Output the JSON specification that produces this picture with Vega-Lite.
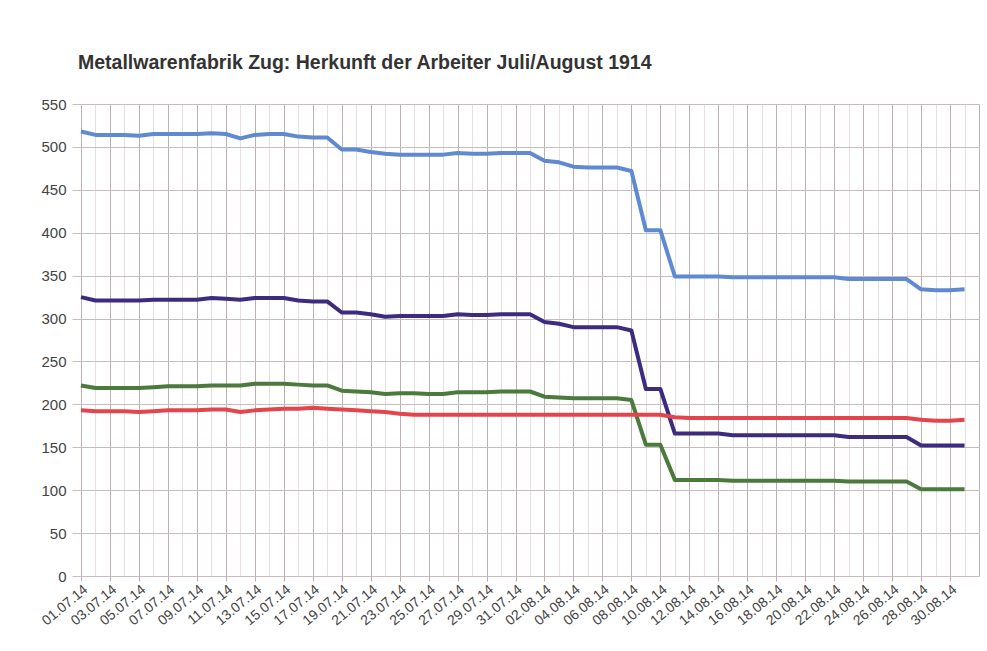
{
  "$schema": "https://vega.github.io/schema/vega-lite/v6.json",
  "autosize": "none",
  "width": 898,
  "height": 472,
  "padding": {"left": 81, "top": 104, "right": 8, "bottom": 75},
  "background": "white",
  "title": {
    "text": "Metallwarenfabrik Zug: Herkunft der Arbeiter Juli/August 1914",
    "anchor": "start",
    "frame": "group",
    "dx": -3,
    "offset": 9,
    "baseline": "alphabetic",
    "font": "Liberation Sans",
    "fontSize": 19.5,
    "fontWeight": "bold",
    "color": "#333333"
  },
  "config": {
    "view": {"stroke": null},
    "axis": {"labelFont": "Liberation Sans", "labelColor": "#444444"}
  },
  "data": {
    "values": [
      {"d":"01.07.14","Total":518,"Gruppe A":325,"Gruppe B":222,"Gruppe C":193},
      {"d":"02.07.14","Total":514,"Gruppe A":321,"Gruppe B":219,"Gruppe C":192},
      {"d":"03.07.14","Total":514,"Gruppe A":321,"Gruppe B":219,"Gruppe C":192},
      {"d":"04.07.14","Total":514,"Gruppe A":321,"Gruppe B":219,"Gruppe C":192},
      {"d":"05.07.14","Total":513,"Gruppe A":321,"Gruppe B":219,"Gruppe C":191},
      {"d":"06.07.14","Total":515,"Gruppe A":322,"Gruppe B":220,"Gruppe C":192},
      {"d":"07.07.14","Total":515,"Gruppe A":322,"Gruppe B":221,"Gruppe C":193},
      {"d":"08.07.14","Total":515,"Gruppe A":322,"Gruppe B":221,"Gruppe C":193},
      {"d":"09.07.14","Total":515,"Gruppe A":322,"Gruppe B":221,"Gruppe C":193},
      {"d":"10.07.14","Total":516,"Gruppe A":324,"Gruppe B":222,"Gruppe C":194},
      {"d":"11.07.14","Total":515,"Gruppe A":323,"Gruppe B":222,"Gruppe C":194},
      {"d":"12.07.14","Total":510,"Gruppe A":322,"Gruppe B":222,"Gruppe C":191},
      {"d":"13.07.14","Total":514,"Gruppe A":324,"Gruppe B":224,"Gruppe C":193},
      {"d":"14.07.14","Total":515,"Gruppe A":324,"Gruppe B":224,"Gruppe C":194},
      {"d":"15.07.14","Total":515,"Gruppe A":324,"Gruppe B":224,"Gruppe C":195},
      {"d":"16.07.14","Total":512,"Gruppe A":321,"Gruppe B":223,"Gruppe C":195},
      {"d":"17.07.14","Total":511,"Gruppe A":320,"Gruppe B":222,"Gruppe C":196},
      {"d":"18.07.14","Total":511,"Gruppe A":320,"Gruppe B":222,"Gruppe C":195},
      {"d":"19.07.14","Total":497,"Gruppe A":307,"Gruppe B":216,"Gruppe C":194},
      {"d":"20.07.14","Total":497,"Gruppe A":307,"Gruppe B":215,"Gruppe C":193},
      {"d":"21.07.14","Total":494,"Gruppe A":305,"Gruppe B":214,"Gruppe C":192},
      {"d":"22.07.14","Total":492,"Gruppe A":302,"Gruppe B":212,"Gruppe C":191},
      {"d":"23.07.14","Total":491,"Gruppe A":303,"Gruppe B":213,"Gruppe C":189},
      {"d":"24.07.14","Total":491,"Gruppe A":303,"Gruppe B":213,"Gruppe C":188},
      {"d":"25.07.14","Total":491,"Gruppe A":303,"Gruppe B":212,"Gruppe C":188},
      {"d":"26.07.14","Total":491,"Gruppe A":303,"Gruppe B":212,"Gruppe C":188},
      {"d":"27.07.14","Total":493,"Gruppe A":305,"Gruppe B":214,"Gruppe C":188},
      {"d":"28.07.14","Total":492,"Gruppe A":304,"Gruppe B":214,"Gruppe C":188},
      {"d":"29.07.14","Total":492,"Gruppe A":304,"Gruppe B":214,"Gruppe C":188},
      {"d":"30.07.14","Total":493,"Gruppe A":305,"Gruppe B":215,"Gruppe C":188},
      {"d":"31.07.14","Total":493,"Gruppe A":305,"Gruppe B":215,"Gruppe C":188},
      {"d":"01.08.14","Total":493,"Gruppe A":305,"Gruppe B":215,"Gruppe C":188},
      {"d":"02.08.14","Total":484,"Gruppe A":296,"Gruppe B":209,"Gruppe C":188},
      {"d":"03.08.14","Total":482,"Gruppe A":294,"Gruppe B":208,"Gruppe C":188},
      {"d":"04.08.14","Total":477,"Gruppe A":290,"Gruppe B":207,"Gruppe C":188},
      {"d":"05.08.14","Total":476,"Gruppe A":290,"Gruppe B":207,"Gruppe C":188},
      {"d":"06.08.14","Total":476,"Gruppe A":290,"Gruppe B":207,"Gruppe C":188},
      {"d":"07.08.14","Total":476,"Gruppe A":290,"Gruppe B":207,"Gruppe C":188},
      {"d":"08.08.14","Total":472,"Gruppe A":286,"Gruppe B":205,"Gruppe C":188},
      {"d":"09.08.14","Total":403,"Gruppe A":218,"Gruppe B":153,"Gruppe C":188},
      {"d":"10.08.14","Total":403,"Gruppe A":218,"Gruppe B":153,"Gruppe C":188},
      {"d":"11.08.14","Total":349,"Gruppe A":166,"Gruppe B":112,"Gruppe C":185},
      {"d":"12.08.14","Total":349,"Gruppe A":166,"Gruppe B":112,"Gruppe C":184},
      {"d":"13.08.14","Total":349,"Gruppe A":166,"Gruppe B":112,"Gruppe C":184},
      {"d":"14.08.14","Total":349,"Gruppe A":166,"Gruppe B":112,"Gruppe C":184},
      {"d":"15.08.14","Total":348,"Gruppe A":164,"Gruppe B":111,"Gruppe C":184},
      {"d":"16.08.14","Total":348,"Gruppe A":164,"Gruppe B":111,"Gruppe C":184},
      {"d":"17.08.14","Total":348,"Gruppe A":164,"Gruppe B":111,"Gruppe C":184},
      {"d":"18.08.14","Total":348,"Gruppe A":164,"Gruppe B":111,"Gruppe C":184},
      {"d":"19.08.14","Total":348,"Gruppe A":164,"Gruppe B":111,"Gruppe C":184},
      {"d":"20.08.14","Total":348,"Gruppe A":164,"Gruppe B":111,"Gruppe C":184},
      {"d":"21.08.14","Total":348,"Gruppe A":164,"Gruppe B":111,"Gruppe C":184},
      {"d":"22.08.14","Total":348,"Gruppe A":164,"Gruppe B":111,"Gruppe C":184},
      {"d":"23.08.14","Total":346,"Gruppe A":162,"Gruppe B":110,"Gruppe C":184},
      {"d":"24.08.14","Total":346,"Gruppe A":162,"Gruppe B":110,"Gruppe C":184},
      {"d":"25.08.14","Total":346,"Gruppe A":162,"Gruppe B":110,"Gruppe C":184},
      {"d":"26.08.14","Total":346,"Gruppe A":162,"Gruppe B":110,"Gruppe C":184},
      {"d":"27.08.14","Total":346,"Gruppe A":162,"Gruppe B":110,"Gruppe C":184},
      {"d":"28.08.14","Total":334,"Gruppe A":152,"Gruppe B":101,"Gruppe C":182},
      {"d":"29.08.14","Total":333,"Gruppe A":152,"Gruppe B":101,"Gruppe C":181},
      {"d":"30.08.14","Total":333,"Gruppe A":152,"Gruppe B":101,"Gruppe C":181},
      {"d":"31.08.14","Total":334,"Gruppe A":152,"Gruppe B":101,"Gruppe C":182}
    ]
  },
  "transform": [
    {"fold": ["Total", "Gruppe A", "Gruppe B", "Gruppe C"], "as": ["Serie", "Anzahl"]}
  ],
  "mark": {"type": "line", "strokeWidth": 4, "strokeJoin": "round", "strokeCap": "butt"},
  "encoding": {
    "x": {
      "field": "d",
      "type": "ordinal",
      "title": null,
      "scale": {
        "type": "point",
        "padding": 0,
        "domain": ["01.07.14","02.07.14","03.07.14","04.07.14","05.07.14","06.07.14","07.07.14","08.07.14","09.07.14","10.07.14","11.07.14","12.07.14","13.07.14","14.07.14","15.07.14","16.07.14","17.07.14","18.07.14","19.07.14","20.07.14","21.07.14","22.07.14","23.07.14","24.07.14","25.07.14","26.07.14","27.07.14","28.07.14","29.07.14","30.07.14","31.07.14","01.08.14","02.08.14","03.08.14","04.08.14","05.08.14","06.08.14","07.08.14","08.08.14","09.08.14","10.08.14","11.08.14","12.08.14","13.08.14","14.08.14","15.08.14","16.08.14","17.08.14","18.08.14","19.08.14","20.08.14","21.08.14","22.08.14","23.08.14","24.08.14","25.08.14","26.08.14","27.08.14","28.08.14","29.08.14","30.08.14","31.08.14","01.09.14"]
      },
      "axis": {
        "domain": false,
        "grid": true,
        "gridWidth": 1,
        "gridColor": {
          "condition": {
            "test": "(slice(datum.value,3,5)=='07' && toNumber(slice(datum.value,0,2))%2==1) || (slice(datum.value,3,5)=='08' && toNumber(slice(datum.value,0,2))%2==0) || slice(datum.value,3,5)=='09'",
            "value": "#bcb0b4"
          },
          "value": "#e4dfe0"
        },
        "ticks": true,
        "tickSize": 5,
        "tickColor": {
          "condition": {
            "test": "(slice(datum.value,3,5)=='07' && toNumber(slice(datum.value,0,2))%2==1) || (slice(datum.value,3,5)=='08' && toNumber(slice(datum.value,0,2))%2==0)",
            "value": "#bcb0b4"
          },
          "value": "rgba(0,0,0,0)"
        },
        "labelExpr": "(slice(datum.value,3,5)=='07' && toNumber(slice(datum.value,0,2))%2==1) || (slice(datum.value,3,5)=='08' && toNumber(slice(datum.value,0,2))%2==0) ? datum.label : ''",
        "labelAngle": -40,
        "labelFontSize": 14,
        "labelPadding": 1,
        "labelOverlap": false
      }
    },
    "y": {
      "field": "Anzahl",
      "type": "quantitative",
      "title": null,
      "scale": {"domain": [0, 550], "nice": false},
      "axis": {
        "values": [0, 50, 100, 150, 200, 250, 300, 350, 400, 450, 500, 550],
        "domain": false,
        "grid": true,
        "gridColor": "#c9bcc0",
        "tickColor": "#c9bcc0",
        "tickSize": 9,
        "labelPadding": 6,
        "labelFontSize": 15
      }
    },
    "color": {
      "field": "Serie",
      "type": "nominal",
      "legend": null,
      "scale": {
        "domain": ["Total", "Gruppe A", "Gruppe B", "Gruppe C"],
        "range": ["#5f89d0", "#3d2b80", "#4a7a3c", "#e4454c"]
      }
    }
  }
}
